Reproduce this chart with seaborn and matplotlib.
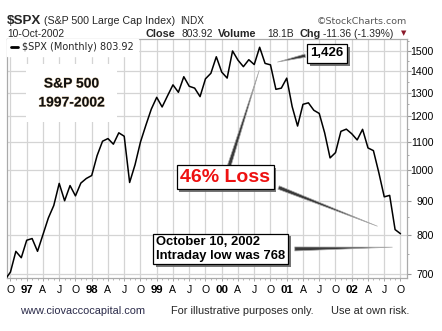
import matplotlib
matplotlib.use('Agg')
import matplotlib.pyplot as plt
import matplotlib.patheffects as pe
from matplotlib.ticker import FixedLocator, NullFormatter
import seaborn as sns
import numpy as np
import pandas as pd

# ---- data (monthly closes, Sep 1996 .. Oct 2002) ----
month_index = list(range(-1, 73))  # 0 = Oct 1996
closes = [687.3,
          705.3, 757.0, 740.7,
          786.2, 790.8, 757.1, 801.3, 848.3, 885.1, 954.3, 899.5, 947.3, 914.6, 955.4, 970.4,
          980.3, 1049.3, 1101.8, 1111.8, 1090.8, 1133.8, 1120.7, 957.3, 1017.0, 1098.7, 1163.6, 1229.2,
          1279.6, 1238.3, 1286.4, 1335.2, 1301.8, 1372.7, 1328.7, 1320.4, 1282.7, 1362.9, 1388.9, 1469.3,
          1394.5, 1366.4, 1498.6, 1452.4, 1420.6, 1454.6, 1430.8, 1517.7, 1436.5, 1429.4, 1315.0, 1320.3,
          1366.0, 1239.9, 1160.3, 1249.5, 1255.8, 1224.4, 1211.2, 1133.6, 1040.9, 1059.8, 1139.5, 1148.1,
          1130.2, 1106.7, 1147.4, 1076.9, 1067.1, 989.8, 911.6, 916.1, 815.3, 803.9]
quarter_pos = list(range(0, 73, 3))
quarter_labels = ["O", "97", "A", "J", "O", "98", "A", "J", "O", "99", "A", "J",
                  "O", "00", "A", "J", "O", "01", "A", "J", "O", "02", "A", "J", "O"]
y_ticks = [700, 800, 900, 1000, 1100, 1200, 1300, 1400, 1500]
legend_label = "$SPX (Monthly) 803.92"

df = pd.DataFrame({"m": month_index, "close": closes})

sns.set_theme(style="white")
plt.rcParams['font.family'] = ['Liberation Sans', 'DejaVu Sans']

W, H = 442, 331
fig = plt.figure(figsize=(W / 100, H / 100), dpi=100)
fig.patch.set_facecolor('white')

def fx(x):
    return x / W

def fy(y):
    return 1 - y / H

ax = fig.add_axes([fx(7.3), fy(278.3), (407 - 7.3) / W, (278.3 - 39) / H])
sns.lineplot(data=df, x="m", y="close", ax=ax, color="black", linewidth=1.1,
             label=legend_label, zorder=3)
ax.set_yscale('log')
ax.set_xlim(-0.58, 73.2)
ax.set_ylim(690.6, 1561)
ax.set_xlabel("")
ax.set_ylabel("")

# y axis on the right
ax.yaxis.tick_right()
ax.yaxis.set_major_locator(FixedLocator(y_ticks))
ax.yaxis.set_major_formatter(matplotlib.ticker.FixedFormatter([str(v) for v in y_ticks]))
ax.yaxis.set_minor_locator(FixedLocator([v for v in range(700, 1560, 50) if v % 100]))
ax.yaxis.set_minor_formatter(NullFormatter())
ax.tick_params(axis='y', which='major', right=True, length=3, width=0.8, color='#999999',
               labelsize=7.6, pad=16, labelcolor='black')
ax.tick_params(axis='y', which='minor', right=True, length=1.5, width=0.6, color='#999999')
for lab in ax.get_yticklabels():
    lab.set_horizontalalignment('right')

# x axis quarters
ax.xaxis.set_major_locator(FixedLocator(quarter_pos))
ax.xaxis.set_major_formatter(matplotlib.ticker.FixedFormatter(quarter_labels))
ax.xaxis.set_minor_locator(FixedLocator(list(range(0, 73))))
ax.tick_params(axis='x', which='major', bottom=True, length=2, width=0.6, color='#999999',
               labelsize=7.6, pad=2.5, labelcolor='black')
ax.tick_params(axis='x', which='minor', bottom=True, length=1.5, width=0.6, color='#aaaaaa')
for lab in ax.get_xticklabels():
    if lab.get_text().isdigit():
        lab.set_fontweight('bold')
        lab.set_fontsize(8.2)

ax.grid(True, which='major', color='#d4d4d4', linewidth=0.9)
for s in ax.spines.values():
    s.set_color('#aaaaaa')
    s.set_linewidth(0.9)

leg = ax.legend(loc='upper left', frameon=True, fontsize=7, handlelength=0.8,
                borderaxespad=0.0, borderpad=0.35, handletextpad=0.4,
                prop={'family': 'DejaVu Sans', 'size': 7})
leg.get_frame().set_facecolor('white')
leg.get_frame().set_edgecolor('white')
leg.get_frame().set_alpha(1)
leg.get_frame().set_boxstyle('square', pad=0)
for line in leg.get_lines():
    line.set_linewidth(2)

# ---- header ----
fig.text(fx(7), fy(21.5), "$SPX", fontsize=9.6, fontweight='bold', va='center', ha='left')
fig.text(fx(44), fy(21.5), "(S&P 500 Large Cap Index)", fontsize=7.7, va='center', ha='left')
fig.text(fx(180), fy(21.5), "INDX", fontsize=7.2, va='center', ha='left')
fig.text(fx(407), fy(21.5), "\u00a9StockCharts.com", fontsize=6.8, va='center', ha='right',
         color='#555555', family='DejaVu Sans')
fig.text(fx(7), fy(34), "10-Oct-2002", fontsize=7.4, va='center', ha='left')
fig.text(fx(146), fy(34), "Close", fontsize=7.8, fontweight='bold', va='center', ha='left')
fig.text(fx(181), fy(34), "803.92", fontsize=7.4, va='center', ha='left')
fig.text(fx(218), fy(34), "Volume", fontsize=7.8, fontweight='bold', va='center', ha='left')
fig.text(fx(267), fy(34), "18.1B", fontsize=7.4, va='center', ha='left')
fig.text(fx(300), fy(34), "Chg", fontsize=7.8, fontweight='bold', va='center', ha='left')
fig.text(fx(323), fy(34), "-11.36 (-1.39%)", fontsize=7.4, va='center', ha='left')
fig.text(fx(403.5), fy(33.5), "\u25bc", fontsize=5, va='center', ha='center', color='#8b1a2b',
         family='DejaVu Sans')

# ---- footer ----
fig.text(fx(20), fy(311.5), "www.ciovaccocapital.com", fontsize=7.9, va='center', ha='left',
         color='#2b2b4a')
fig.text(fx(171), fy(311.5), "For illustrative purposes only.", fontsize=7.9, va='center', ha='left')
fig.text(fx(331), fy(311.5), "Use at own risk.", fontsize=7.9, va='center', ha='left')

# ---- annotations ----
title = fig.text(fx(71.5), fy(93), "S&P 500\n1997-2002", fontsize=10, fontweight='bold',
                 ha='center', va='center', linespacing=1.45, color='#111111', zorder=6,
                 bbox=dict(boxstyle='square,pad=0.9', fc='white', ec='none'))
title.set_path_effects([pe.Stroke(linewidth=0.7, foreground='#c89040', alpha=0.35), pe.Normal()])

def wedge(xy, xytext, tw):
    ax.annotate("", xy=xy, xycoords='data', xytext=xytext, textcoords='figure fraction',
                arrowprops=dict(arrowstyle=f'wedge,tail_width={tw},shrink_factor=0.5',
                                fc='#3a3a3a', ec='#aaaaaa', lw=0.5),
                annotation_clip=False, zorder=5)

# 46% loss pointers
wedge((46.07, 1415), (fx(228.5), fy(168)), 0.22)
wedge((68.2, 822), (fx(276), fy(186.5)), 0.22)
# 1,426 pointer
wedge((48.8, 1440), (fx(308), fy(55)), 0.2)
# October pointer
wedge((71.0, 768), (fx(292), fy(249)), 0.24)

def boxed(x, y, s, size, color, ha='center', pad=0.2, ls=1.2):
    t = fig.text(fx(x), fy(y), s, fontsize=size, fontweight='bold', color=color,
                 ha=ha, va='center', linespacing=ls, zorder=7,
                 bbox=dict(boxstyle=f'square,pad={pad}', fc='white', ec='black', lw=0.9))
    t.get_bbox_patch().set_path_effects([pe.withSimplePatchShadow(offset=(2, -2),
                                                                  shadow_rgbFace='#666666',
                                                                  alpha=0.9)])
    return t

boxed(225, 177, "46% Loss", 14, '#ee1111', pad=0.18)
boxed(327, 53.5, "1,426", 9.5, 'black', pad=0.25)
boxed(156, 249, "October 10, 2002\nIntraday low was 768", 9.4, 'black', ha='left', pad=0.2,
      ls=1.15)

fig.savefig("out.png", dpi=100, facecolor='white')
